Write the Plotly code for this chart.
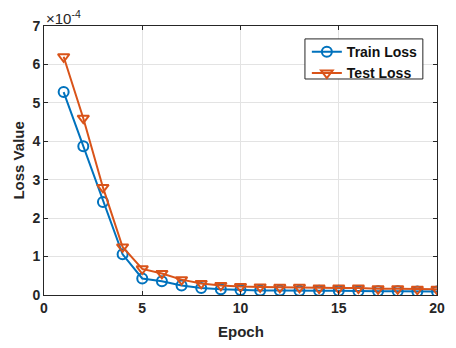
import plotly.graph_objects as go

epochs = list(range(1, 21))
# loss values in units of 1e-4
train_loss = [5.28, 3.87, 2.42, 1.06, 0.43, 0.36, 0.25, 0.18, 0.15, 0.13,
              0.12, 0.12, 0.11, 0.11, 0.11, 0.10, 0.10, 0.10, 0.09, 0.09]
test_loss = [6.20, 4.60, 2.80, 1.25, 0.68, 0.56, 0.40, 0.30, 0.25, 0.22,
             0.21, 0.20, 0.20, 0.18, 0.18, 0.18, 0.16, 0.16, 0.15, 0.15]
x_ticks = [0, 5, 10, 15, 20]
y_ticks = [0, 1, 2, 3, 4, 5, 6, 7]

BLUE = "#0072BD"
ORANGE = "#D95319"
FONT = "Liberation Sans, Arial, sans-serif"

fig = go.Figure()
fig.add_trace(go.Scatter(
    x=epochs, y=train_loss, name="<b>Train Loss</b>", mode="lines+markers",
    line=dict(color=BLUE, width=2),
    marker=dict(symbol="circle-open", size=10, color=BLUE, line=dict(width=2)),
))
fig.add_trace(go.Scatter(
    x=epochs, y=test_loss, name="<b>Test Loss</b>", mode="lines+markers",
    line=dict(color=ORANGE, width=2),
    marker=dict(symbol="triangle-down-open", size=10, color=ORANGE, line=dict(width=2)),
))

axis_common = dict(
    showgrid=True, gridcolor="#E3E3E3", gridwidth=1,
    showline=True, linecolor="#262626", linewidth=1, mirror="ticks",
    ticks="inside", ticklen=4, tickcolor="#262626",
    tickfont=dict(family=FONT, size=14, color="#262626", weight="bold"),
    zeroline=False, automargin=False,
)

# page body has an 8px margin, so the figure is sized/margined to compensate
fig.update_layout(
    width=440, height=332,
    margin=dict(l=36, r=11, t=18, b=45, autoexpand=False),
    paper_bgcolor="white", plot_bgcolor="white",
    font=dict(family=FONT, color="#262626"),
    showlegend=True,
    legend=dict(
        x=0.964, y=0.962, xanchor="right", yanchor="top",
        bgcolor="rgba(0,0,0,0)", borderwidth=0,
        font=dict(family=FONT, size=14, color="#111111"),
        itemwidth=30, tracegroupgap=0,
    ),
    shapes=[dict(
        type="rect", xref="paper", yref="paper",
        x0=0.664, x1=0.964, y0=0.803, y1=0.952,
        fillcolor="white", line=dict(color="#262626", width=1), layer="above",
    )],
    xaxis=dict(axis_common, range=[0, 20], tickvals=x_ticks),
    yaxis=dict(axis_common, range=[0, 7], tickvals=y_ticks),
    annotations=[
        dict(x=0, y=1, xref="paper", yref="paper", xanchor="left", yanchor="bottom",
             text="×10<sup>-4</sup>", showarrow=False, yshift=-3,
             font=dict(family=FONT, size=15, color="#262626")),
        dict(x=0.5, y=-0.098, xref="paper", yref="paper", xanchor="center", yanchor="top",
             text="<b>Epoch</b>", showarrow=False,
             font=dict(family=FONT, size=15, color="#262626")),
        dict(x=-0.066, y=0.5, xref="paper", yref="paper", xanchor="center", yanchor="middle",
             text="<b>Loss Value</b>", showarrow=False, textangle=-90,
             font=dict(family=FONT, size=15, color="#262626")),
    ],
)

fig.write_html("out.html")
